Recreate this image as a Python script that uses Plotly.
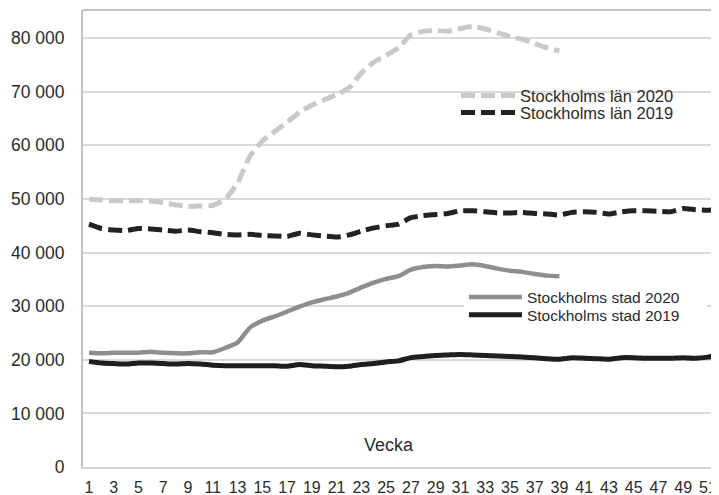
import plotly.graph_objects as go

weeks = list(range(1, 53))

lan_2020 = [50000, 49800, 49700, 49600, 49700, 49600, 49300, 48900, 48600, 48700,
            48800, 50000, 53000, 58000, 60800, 62600, 64300, 66200, 67500, 68500,
            69500, 70700, 73500, 75500, 76800, 78200, 80600, 81300, 81400, 81300,
            81800, 82200, 81700, 81000, 80300, 79800, 79000, 78200, 77600]

lan_2019 = [45300, 44500, 44200, 44100, 44500, 44400, 44200, 44000, 44200, 43900,
            43700, 43400, 43300, 43400, 43200, 43100, 43000, 43600, 43300, 43100,
            42900, 43300, 44000, 44600, 45000, 45300, 46500, 46900, 47100, 47300,
            47800, 47800, 47600, 47400, 47400, 47500, 47300, 47200, 47000, 47500,
            47600, 47500, 47200, 47600, 47800, 47800, 47700, 47600, 48200, 48000,
            47900, 48100]

stad_2020 = [21300, 21200, 21300, 21300, 21300, 21500, 21300, 21200, 21200, 21400,
             21400, 22200, 23200, 26000, 27300, 28100, 29000, 29900, 30700, 31300,
             31800, 32500, 33500, 34400, 35100, 35600, 36800, 37300, 37500, 37400,
             37600, 37800, 37500, 37000, 36600, 36400, 36000, 35700, 35600]

stad_2019 = [19700, 19400, 19300, 19200, 19400, 19400, 19300, 19200, 19300, 19200,
             19000, 18900, 18900, 18900, 18900, 18900, 18800, 19100, 18900, 18800,
             18700, 18800, 19100, 19300, 19600, 19800, 20400, 20600, 20800, 20900,
             21000, 20900, 20800, 20700, 20600, 20500, 20400, 20200, 20100, 20400,
             20300, 20200, 20100, 20400, 20400, 20300, 20300, 20300, 20400, 20300,
             20500, 20900]

x_tickvals = list(range(1, 52, 2))
y_tickvals = [0, 10000, 20000, 30000, 40000, 50000, 60000, 70000, 80000]
y_ticktext = ["0", "10 000", "20 000", "30 000", "40 000", "50 000", "60 000", "70 000", "80 000"]

FONT = "Liberation Sans, Arial, sans-serif"
TXT = "#2b2b2b"

fig = go.Figure()

fig.add_trace(go.Scatter(
    x=weeks[:len(stad_2019)], y=stad_2019, mode="lines", name="Stockholms stad 2019",
    line=dict(color="#1e1e1e", width=5, shape="spline", smoothing=0.5),
    legend="legend4"))
fig.add_trace(go.Scatter(
    x=weeks[:len(stad_2020)], y=stad_2020, mode="lines", name="Stockholms stad 2020",
    line=dict(color="#8e8e8e", width=4.5, shape="spline", smoothing=0.5),
    legend="legend3"))
fig.add_trace(go.Scatter(
    x=weeks[:len(lan_2019)], y=lan_2019, mode="lines", name="Stockholms län 2019",
    line=dict(color="#222222", width=5, dash="14px,6px", shape="spline", smoothing=0.5),
    legend="legend2"))
fig.add_trace(go.Scatter(
    x=weeks[:len(lan_2020)], y=lan_2020, mode="lines", name="Stockholms län 2020",
    line=dict(color="#c9c9c9", width=5, dash="14px,6px", shape="spline", smoothing=0.5),
    legend="legend"))

leg_common = dict(xanchor="left", yanchor="middle", bgcolor="rgba(0,0,0,0)",
                  borderwidth=0, itemclick=False, itemdoubleclick=False)

fig.update_layout(
    width=711, height=487,
    margin=dict(l=75, r=0, t=2, b=28),
    paper_bgcolor="white", plot_bgcolor="white",
    font=dict(family=FONT, color=TXT),
    showlegend=True,
    legend=dict(x=0.5865, y=0.8124, font=dict(size=16.5, family=FONT, color=TXT), itemwidth=54, **leg_common),
    legend2=dict(x=0.5865, y=0.7751, font=dict(size=16.5, family=FONT, color=TXT), itemwidth=54, **leg_common),
    legend3=dict(x=0.599, y=0.3709, font=dict(size=15.5, family=FONT, color=TXT), itemwidth=53, **leg_common),
    legend4=dict(x=0.599, y=0.3322, font=dict(size=15.5, family=FONT, color=TXT), itemwidth=53,
                 orientation="h", entrywidth=175,
                 **{**leg_common, "bgcolor": "white"}),
    xaxis=dict(range=[0.515, 51.89], tickmode="array", tickvals=x_tickvals,
               tickfont=dict(size=16, family=FONT, color=TXT), showgrid=False,
               showline=True, linecolor="#d6d6d6", linewidth=2, ticks="",
               ticklabelstandoff=5, zeroline=False, automargin=False),
    yaxis=dict(range=[0, 85250], tickmode="array", tickvals=y_tickvals, ticktext=y_ticktext,
               tickfont=dict(size=17.5, family=FONT, color=TXT), showgrid=True,
               gridcolor="#dadada", gridwidth=1.5, showline=True, linecolor="#c2c2c2",
               linewidth=2, ticks="", ticklabelstandoff=13, zeroline=False, automargin=False),
    shapes=[dict(type="line", xref="paper", yref="paper", x0=0, x1=1, y0=1, y1=1,
                 line=dict(color="#c2c2c2", width=2))],
    annotations=[dict(text="Vecka", xref="paper", yref="paper", x=(389 - 83) / 636,
                      y=1 - (445 - 10) / 456.7, showarrow=False,
                      font=dict(size=18, family=FONT, color=TXT),
                      xanchor="center", yanchor="middle")],
)

fig.write_html("out.html")
